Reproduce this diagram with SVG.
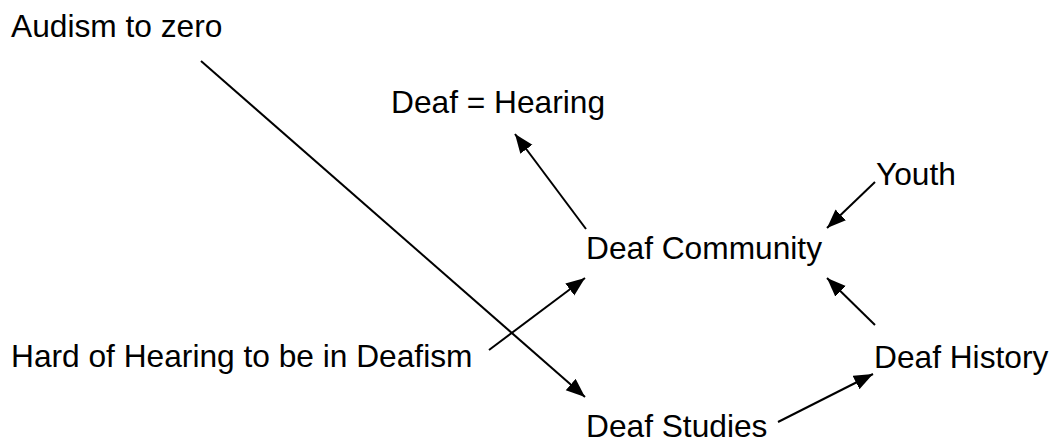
<svg xmlns="http://www.w3.org/2000/svg" width="1052" height="444" viewBox="0 0 1052 444">
  <style>
    .lbl { font-family: "Liberation Sans", Arial, sans-serif; font-size: 31.7px; fill: #000; }
    .conn { stroke: #000; stroke-width: 2; fill: none; marker-end: url(#arrow); }
  </style>
  <defs>
    <marker id="arrow" markerUnits="userSpaceOnUse" markerWidth="20" markerHeight="16" refX="19" refY="7.5" orient="auto">
      <path d="M0,0 L19,7.5 L0,15 Z" fill="#000"/>
    </marker>
  </defs>
  <rect width="1052" height="444" fill="#fff"/>
  <g id="connectors">
    <line class="conn" x1="201" y1="61" x2="585" y2="397"/>
    <line class="conn" x1="489" y1="350" x2="585" y2="278"/>
    <line class="conn" x1="586" y1="229" x2="515" y2="134"/>
    <line class="conn" x1="875" y1="182" x2="827" y2="228"/>
    <line class="conn" x1="875" y1="325" x2="827" y2="278"/>
    <line class="conn" x1="778" y1="422" x2="873" y2="374"/>
  </g>
  <g id="audism"><text class="lbl" x="11" y="37">Audism to zero</text></g>
  <g id="deaf-hearing"><text class="lbl" x="391" y="113">Deaf = Hearing</text></g>
  <g id="youth"><text class="lbl" x="876" y="185">Youth</text></g>
  <g id="deaf-community"><text class="lbl" x="586" y="259">Deaf Community</text></g>
  <g id="hard-of-hearing"><text class="lbl" x="11" y="367">Hard of Hearing to be in Deafism</text></g>
  <g id="deaf-history"><text class="lbl" x="874" y="368">Deaf History</text></g>
  <g id="deaf-studies"><text class="lbl" x="586" y="437">Deaf Studies</text></g>
</svg>
